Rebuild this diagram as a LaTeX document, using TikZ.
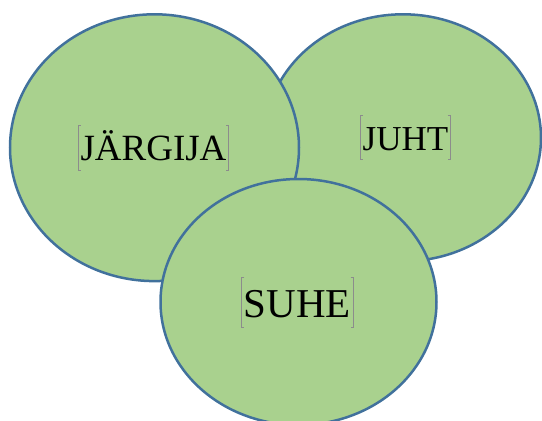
\documentclass[tikz,border=0pt]{standalone}
\usepackage{fontspec}
\setmainfont{Liberation Serif}
\usetikzlibrary{shapes.geometric}
\definecolor{leaf}{HTML}{A9D18E}
\definecolor{rim}{HTML}{41719C}
\definecolor{marker}{HTML}{8C8C8C}
% thin grey text-box brackets on both sides of a label node
\newcommand\textmarks[1]{%
  \draw[boxmark] ([xshift=2.5pt]#1.north west) -- (#1.north west) -- (#1.south west) -- ([xshift=2.5pt]#1.south west);
  \draw[boxmark] ([xshift=-2.5pt]#1.north east) -- (#1.north east) -- (#1.south east) -- ([xshift=-2.5pt]#1.south east);}
\begin{document}
\begin{tikzpicture}[x=1pt,y=-1pt,
  circ/.style={ellipse, draw=rim, fill=leaf, line width=2.5pt, inner sep=0pt},
  word/.style={inner xsep=2pt, inner ysep=0pt, anchor=base, text=black},
  boxmark/.style={draw=marker, line width=0.6pt}]
\useasboundingbox (0,0) rectangle (542,421);
\begin{scope}
  \clip (0,0) rectangle (542,421);
  \node[circ, minimum width=276pt, minimum height=247pt] (juht) at (403,137.8) {};
  \node[circ, minimum width=289pt, minimum height=266.8pt] (jargija) at (154.5,147.7) {};
  \node[circ, minimum width=276pt, minimum height=246pt] (suhe) at (298.5,302) {};
\end{scope}
\node[word, font=\fontsize{37}{44}\selectfont, text height=35pt, text depth=10pt] (tj) at (153.5,160) {JÄRGIJA};
\node[word, font=\fontsize{35}{42}\selectfont, text height=35pt, text depth=9pt] (tu) at (405.5,150) {JUHT};
\node[word, font=\fontsize{41}{48}\selectfont, text height=40pt, text depth=10pt] (ts) at (297.5,317) {SUHE};
\textmarks{tj}
\textmarks{tu}
\textmarks{ts}
\end{tikzpicture}
\end{document}
